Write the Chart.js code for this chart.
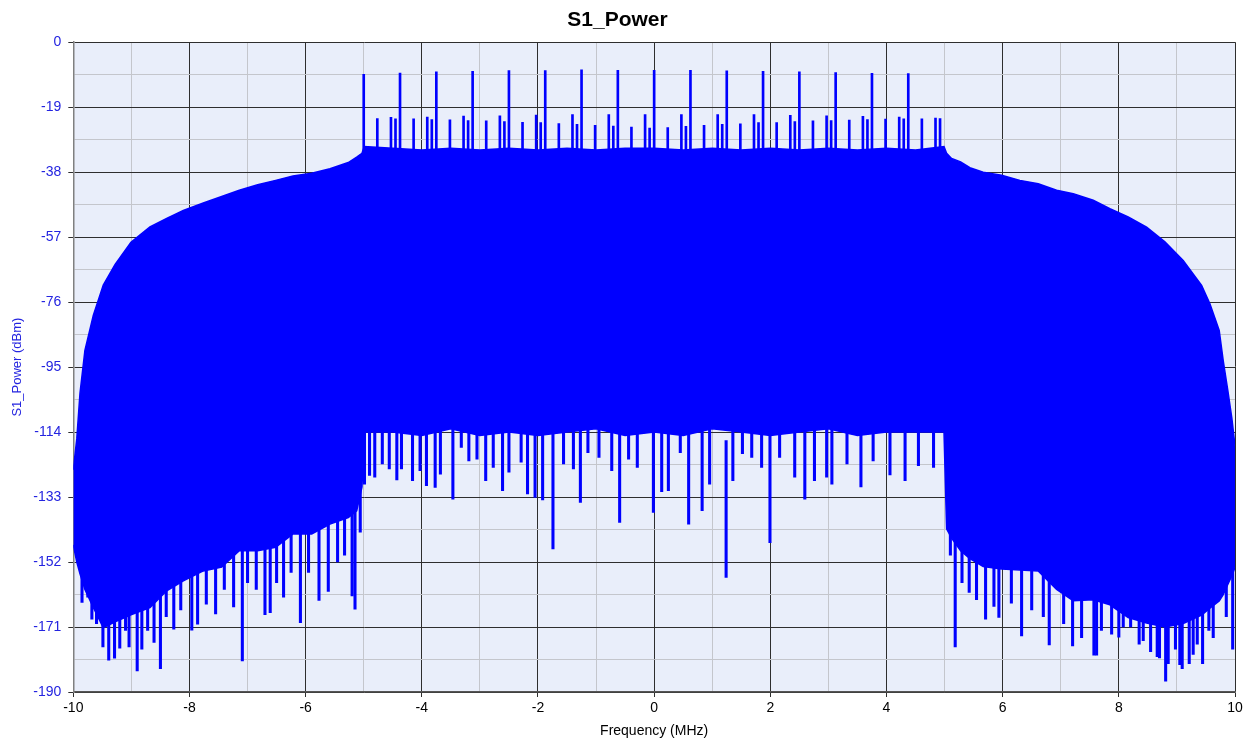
<!DOCTYPE html>
<html lang="en">
<head>
<meta charset="UTF-8">
<title>S1_Power</title>
<script src="https://cdn.jsdelivr.net/npm/chart.js"></script>
<style>
  html, body { margin: 0; padding: 0; background: #fff; }
  #wrap { width: 1247px; height: 740px; }
</style>
</head>
<body>
<div id="wrap"><canvas id="chart" width="1247" height="740"></canvas></div>
<script>
// spectrum envelope (MHz / dBm)
const envFreqs = [-10, -9.94, -9.885, -9.8, -9.656, -9.484, -9.28, -9.007, -8.68, -8.392, -8.106, -7.762, -7.445, -7.142, -6.826, -6.516, -6.218, -5.896, -5.581, -5.266, -5.121, -5.03, -4.99,
  -4.5, -4, -3.5, -3, -2.5, -2, -1.5, -1, -0.5, 0, 0.5, 1, 1.5, 2, 2.5, 3, 3.5, 4, 4.5,
  4.99, 5.035, 5.121, 5.276, 5.436, 5.665, 5.982, 6.297, 6.612, 6.929, 7.215, 7.559, 7.847, 8.161, 8.478, 8.793, 9.108, 9.425, 9.568, 9.728, 9.797, 9.878, 9.946, 10];
const upperEnv = [-125, -116, -102.7, -90.1, -79.9, -71, -65, -58.5, -54, -51.5, -49.2, -47, -45.1, -43.3, -41.7, -40.4, -39.1, -38.3, -37, -35.2, -33.6, -32.5, -30.5,
  -31, -31.5, -31, -31.5, -31, -31.5, -31, -31.5, -31, -31, -31.5, -31, -31.5, -31, -31.5, -31, -31.5, -31, -31.5,
  -30.5, -32.5, -34, -35, -36.7, -38, -38.9, -40.4, -41.4, -43.3, -44.3, -46.2, -48.7, -51.1, -54.1, -58.4, -63.8, -71.1, -76.5, -84.3, -93.1, -102, -110, -118];
const lowerEnv = [-147, -152, -155.4, -160, -165.3, -171.2, -169.5, -167.4, -165.3, -160.4, -157.5, -154.6, -153.5, -148.7, -148.7, -147.7, -143.8, -143.8, -140.9, -139, -137, -130, -114,
  -114, -115, -113, -115, -114, -115, -114, -113, -115, -114, -115, -113, -114, -115, -114, -113, -115, -114, -114,
  -114, -142.3, -145, -148.7, -151, -153.3, -154, -154.3, -154.6, -160, -163.3, -163, -164.5, -168.2, -169.8, -171, -170, -167.5, -165.5, -163.4, -161.5, -158.5, -156, -153.6];

// tall tones
const toneFreqs = [-5, -4.375, -3.75, -3.125, -2.5, -1.875, -1.25, -0.625, 0, 0.625, 1.25, 1.875, 2.5, 3.125, 3.75, 4.375];
const toneLevels = [-9.4, -9.0, -8.7, -8.5, -8.3, -8.3, -8.1, -8.2, -8.2, -8.2, -8.4, -8.5, -8.7, -8.9, -9.1, -9.2];

// smaller spikes between tones
const subFreqs = [-4.766, -4.531, -4.453, -4.141, -3.906, -3.828, -3.516, -3.281, -3.203, -2.891, -2.656, -2.578,
  -2.266, -2.031, -1.953, -1.641, -1.406, -1.328, -1.016, -0.781, -0.703, -0.391, -0.156, -0.078,
  0.234, 0.469, 0.547, 0.859, 1.094, 1.172, 1.484, 1.719, 1.797, 2.109, 2.344, 2.422,
  2.734, 2.969, 3.047, 3.359, 3.594, 3.672, 3.984, 4.219, 4.297, 4.609, 4.844, 4.922];
const subLevels = [-22.3, -22.0, -22.4, -22.4, -21.9, -22.6, -22.7, -21.6, -22.9, -23.0, -21.5, -23.2,
  -23.4, -21.3, -23.5, -23.8, -21.2, -24.0, -24.3, -21.2, -24.5, -24.8, -21.2, -25.1,
  -25.0, -21.2, -24.6, -24.3, -21.2, -24.0, -23.9, -21.2, -23.5, -23.5, -21.4, -23.2,
  -23.0, -21.5, -22.9, -22.8, -21.7, -22.6, -22.5, -21.9, -22.4, -22.4, -22.2, -22.3];

// downward dips below the body
const dipFreqs = [-9.85, -9.75, -9.68, -9.6, -9.49, -9.39, -9.29, -9.2, -9.1, -9.04, -8.9, -8.82, -8.72, -8.61, -8.5, -8.4, -8.27, -8.15, -7.96, -7.86, -7.71, -7.55, -7.4, -7.24, -7.09, -7.0, -6.85, -6.7, -6.61, -6.5, -6.38, -6.25, -6.09, -5.95, -5.77, -5.61, -5.45, -5.33, -5.2, -5.15, -5.06,
  -4.987, -4.9, -4.81, -4.68, -4.56, -4.43, -4.35, -4.16, -4.03, -3.92, -3.77, -3.68, -3.465, -3.32, -3.19, -3.05, -2.9, -2.77, -2.61, -2.5, -2.29, -2.18, -2.05, -1.92, -1.742, -1.56, -1.39, -1.27, -1.14, -0.95, -0.73, -0.594, -0.44, -0.29, -0.013,
  0.13, 0.245, 0.45, 0.594, 0.826, 0.955, 1.239, 1.355, 1.52, 1.68, 1.85, 1.994, 2.16, 2.42, 2.594, 2.76, 2.97, 3.06, 3.32, 3.56, 3.77, 4.06, 4.32, 4.55, 4.81,
  5.1, 5.183, 5.3, 5.424, 5.55, 5.706, 5.85, 5.935, 6.15, 6.326, 6.5, 6.7, 6.802, 7.05, 7.204, 7.359, 7.571, 7.617, 7.7, 7.876, 8.0, 8.076, 8.203, 8.35, 8.42, 8.547, 8.661, 8.7, 8.806, 8.85, 8.975, 9.05, 9.091, 9.212, 9.28, 9.35, 9.442, 9.55, 9.625, 9.85, 9.96];
const dipLevels = [-163.8, -162.3, -168.7, -170, -176.8, -180.7, -180.1, -177.2, -172, -176.8, -183.8, -177.5, -172, -175.5, -183.2, -168, -171.6, -166, -171.9, -170.2, -164.3, -167.2, -160, -165.1, -180.9, -158, -160, -167.4, -166.8, -158, -162.3, -155, -169.7, -155, -163.2, -160.6, -152, -150, -161.9, -165.8, -143.3,
  -129.2, -126.7, -127.2, -123.3, -124.8, -128, -124.8, -128.2, -125.3, -129.7, -130.2, -126.3, -133.6, -118.5, -122.4, -121.9, -128.2, -124.3, -131.1, -125.7, -122.8, -132.1, -133.1, -133.8, -148.2, -123.3, -124.8, -134.6, -120, -121.4, -125.3, -140.4, -121.9, -124.3, -137.5,
  -131.4, -131.1, -120, -140.9, -137, -129.2, -156.5, -128.2, -120.3, -121.4, -124.3, -146.3, -121.4, -127.2, -133.6, -128.2, -127.2, -129.2, -123.3, -130, -122.4, -126.5, -128.2, -123.8, -124.3,
  -150, -176.8, -158, -160.9, -163, -168.7, -165, -168.2, -164, -173.6, -166, -168, -176.2, -170, -176.5, -174.1, -179.2, -179.2, -172, -173.1, -174, -171, -171, -176, -175, -178.2, -179.7, -180, -186.8, -181.7, -177.5, -182, -183.2, -181.7, -179, -176, -181.7, -172, -174.1, -168, -177.5];
const DIP_LEN = 40; // bar runs from the dip tip back up into the body

const xTickLabels = [-10, -8, -6, -4, -2, 0, 2, 4, 6, 8, 10];
const yTickLabels = [0, -19, -38, -57, -76, -95, -114, -133, -152, -171, -190];

const BLUE = '#0000ff';
const FONT = "'Liberation Sans', Arial, sans-serif";

const plotBg = {
  id: 'plotBg',
  beforeDraw(chart) {
    const { ctx, chartArea: a } = chart;
    ctx.save();
    ctx.fillStyle = '#e9eefa';
    ctx.fillRect(a.left, a.top, a.right - a.left, a.bottom - a.top);
    ctx.restore();
  }
};

function pts(xs, ys) {
  return xs.map((x, i) => ({ x: x, y: ys[i] }));
}

new Chart(document.getElementById('chart'), {
  type: 'line',
  data: {
    datasets: [
      {
        data: pts(envFreqs, upperEnv),
        borderColor: BLUE, backgroundColor: BLUE, borderWidth: 1.5,
        pointRadius: 0, tension: 0, fill: '+1'
      },
      {
        data: pts(envFreqs, lowerEnv),
        borderColor: BLUE, backgroundColor: BLUE, borderWidth: 1.5,
        pointRadius: 0, tension: 0, fill: false
      },
      {
        type: 'bar',
        data: toneFreqs.map((f, i) => ({ x: f, y: [-36, toneLevels[i]] })),
        backgroundColor: BLUE, barThickness: 2, grouped: false
      },
      {
        type: 'bar',
        data: subFreqs.map((f, i) => ({ x: f, y: [-36, subLevels[i]] })),
        backgroundColor: BLUE, barThickness: 2, grouped: false
      },
      {
        type: 'bar',
        data: dipFreqs.map((f, i) => ({ x: f, y: [dipLevels[i], dipLevels[i] + DIP_LEN] })),
        backgroundColor: BLUE, barThickness: 2.4, grouped: false
      }
    ]
  },
  options: {
    responsive: false,
    animation: false,
    devicePixelRatio: 1,
    layout: { padding: { left: 0, right: 12, top: 0, bottom: 0 } },
    plugins: {
      legend: { display: false },
      tooltip: { enabled: false },
      title: {
        display: true,
        text: 'S1_Power',
        color: '#000',
        font: { family: FONT, size: 21, weight: 'bold' },
        padding: { top: 8, bottom: 9 }
      }
    },
    scales: {
      x: {
        type: 'linear',
        min: -10, max: 10,
        offset: false,
        afterFit: (s) => { s.height = 48; },
        ticks: {
          stepSize: 1,
          autoSkip: false,
          maxRotation: 0,
          color: '#000',
          padding: 3,
          font: { family: FONT, size: 14 },
          callback: (v) => xTickLabels.includes(v) ? String(v) : ''
        },
        grid: {
          offset: false,
          tickLength: 5,
          color: (c) => c.tick && xTickLabels.includes(c.tick.value) ? '#2e2e2e' : '#c4c6cc',
          tickColor: (c) => c.tick && xTickLabels.includes(c.tick.value) ? '#2e2e2e' : 'rgba(0,0,0,0)'
        },
        border: { color: '#555', width: 1.5 },
        title: {
          display: true,
          text: 'Frequency (MHz)',
          color: '#000',
          font: { family: FONT, size: 14 },
          padding: { top: 0, bottom: 0 }
        }
      },
      y: {
        min: -190, max: 0,
        afterFit: (s) => { s.width = 73.3; },
        ticks: {
          stepSize: 9.5,
          autoSkip: false,
          color: '#2424e0',
          padding: 7,
          font: { family: FONT, size: 14 },
          callback: (v) => yTickLabels.includes(v) ? String(v) : ''
        },
        grid: {
          tickLength: 5,
          color: (c) => c.tick && yTickLabels.includes(c.tick.value) ? '#2e2e2e' : '#c4c6cc',
          tickColor: (c) => c.tick && yTickLabels.includes(c.tick.value) ? '#2e2e2e' : 'rgba(0,0,0,0)'
        },
        border: { color: '#808080', width: 1.5 },
        title: {
          display: true,
          text: 'S1_Power (dBm)',
          color: '#2424e0',
          font: { family: FONT, size: 13 },
          padding: { top: 10, bottom: 0 }
        }
      }
    }
  },
  plugins: [plotBg]
});
</script>
</body>
</html>
